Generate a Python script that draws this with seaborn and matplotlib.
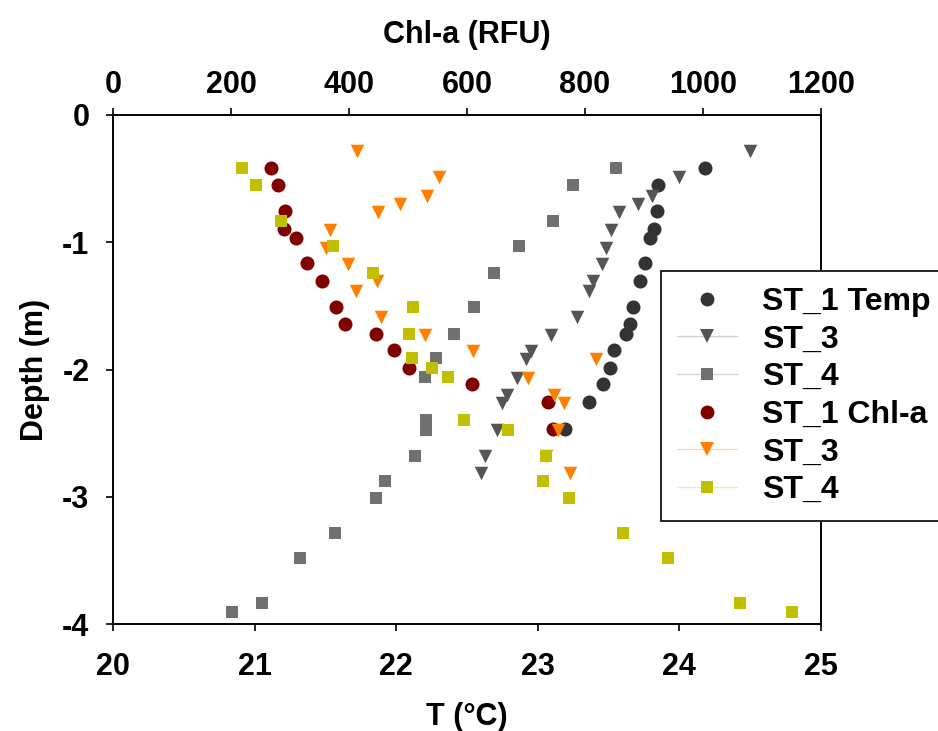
import numpy as np
import matplotlib
matplotlib.use("Agg")
import matplotlib.pyplot as plt
import seaborn as sns
from matplotlib.lines import Line2D

# ---------------- data ----------------
depth_st1 = [-0.415, -0.554, -0.751, -0.892, -0.963, -1.160, -1.301, -1.510,
             -1.639, -1.720, -1.848, -1.990, -2.116, -2.257, -2.467]
temp_st1 = [24.18, 23.85, 23.84, 23.82, 23.79, 23.76, 23.72, 23.67,
            23.65, 23.62, 23.54, 23.51, 23.46, 23.36, 23.19]
chla_st1 = [268, 280, 292, 289, 310, 329, 354, 378,
            394, 446, 477, 501, 608, 738, 745]

depth_st3 = [-0.285, -0.491, -0.633, -0.700, -0.763, -0.903, -1.042, -1.170,
             -1.307, -1.380, -1.590, -1.728, -1.856, -1.918, -2.068, -2.200,
             -2.267, -2.475, -2.683, -2.815]
temp_st3 = [24.50, 24.00, 23.81, 23.71, 23.57, 23.52, 23.48, 23.45,
            23.39, 23.36, 23.28, 23.09, 22.95, 22.92, 22.85, 22.78,
            22.75, 22.71, 22.63, 22.60]
chla_st3 = [414, 552, 532, 486, 449, 368, 361, 399,
            448, 412, 454, 528, 611, 819, 703, 748,
            764, 755, 734, 774]

depth_st4 = [-0.417, -0.551, -0.834, -1.028, -1.243, -1.510, -1.722, -1.911,
             -1.990, -2.061, -2.399, -2.472, -2.682, -2.878, -3.012, -3.287,
             -3.483, -3.837, -3.908]
temp_st4 = [23.55, 23.25, 23.11, 22.87, 22.69, 22.55, 22.41, 22.28,
            np.nan, 22.20, 22.21, 22.21, 22.13, 21.92, 21.86, 21.57,
            21.32, 21.05, 20.84]
chla_st4 = [219, 243, 284, 373, 441, 509, 502, 507,
            540, 568, 595, 670, 734, 728, 773, 865,
            941, 1062, 1151]

legend_labels = ["ST_1 Temp", "ST_3", "ST_4", "ST_1 Chl-a", "ST_3", "ST_4"]
temp_ticks = [20, 21, 22, 23, 24, 25]
chla_ticks = [0, 200, 400, 600, 800, 1000, 1200]
depth_ticks = [-4, -3, -2, -1, 0]

# ---------------- style ----------------
sns.set_style("ticks", {"axes.edgecolor": "black", "xtick.color": "black",
                        "ytick.color": "black", "text.color": "black",
                        "axes.labelcolor": "black"})
plt.rcParams["font.family"] = ["Liberation Sans", "DejaVu Sans"]
plt.rcParams["font.weight"] = "bold"
plt.rcParams["axes.unicode_minus"] = False

W, H = 938, 731
fig = plt.figure(figsize=(W / 100, H / 100), dpi=100)
L, R, T, B = 113, 821, 115, 624
ax = fig.add_axes([L / W, (H - B) / H, (R - L) / W, (B - T) / H])
ax2 = ax.twiny()

temp_specs = [
    (depth_st1, temp_st1, "#333333", "o", 102),
    (depth_st3, temp_st3, "#555555", "v", 95),
    (depth_st4, temp_st4, "#707070", "s", 84),
]
chla_specs = [
    (depth_st1, chla_st1, "#800000", "o", 102),
    (depth_st3, chla_st3, "#ff8000", "v", 95),
    (depth_st4, chla_st4, "#c0c000", "s", 84),
]
for d, v, c, m, s in temp_specs:
    sns.scatterplot(x=v, y=d, ax=ax, color=c, marker=m, s=s, linewidth=0, zorder=3)
for d, v, c, m, s in chla_specs:
    sns.scatterplot(x=v, y=d, ax=ax2, color=c, marker=m, s=s, linewidth=0, zorder=3)

ax.set_xlim(20, 25)
ax.set_ylim(-4, 0)
ax2.set_xlim(0, 1200)
ax.set_xticks(temp_ticks)
ax.set_yticks(depth_ticks)
ax2.set_xticks(chla_ticks)

fs = 22
ax.tick_params(axis="x", direction="out", length=5, width=1.2, pad=15, labelsize=fs)
ax.tick_params(axis="y", direction="out", length=5, width=1.2, pad=12, labelsize=fs,
               right=False)
ax2.tick_params(axis="x", direction="out", length=5, width=1.2, pad=6, labelsize=fs)
for a in (ax, ax2):
    for sp in a.spines.values():
        sp.set_linewidth(1.2)
        sp.set_color("black")
        sp.set_visible(True)

ax.set_xlabel("T (°C)", fontsize=fs, fontweight="bold")
ax.xaxis.set_label_coords(0.5, -0.153)
ax2.set_xlabel("Chl-a (RFU)", fontsize=fs, fontweight="bold")
ax2.xaxis.set_label_coords(0.5, 1.1415)
ax.set_ylabel("Depth (m)", fontsize=fs, fontweight="bold")
ax.yaxis.set_label_coords(-0.089, 0.5)

# ---------------- legend ----------------
handles = [
    Line2D([0], [0], linestyle="none", marker="o", markersize=10,
           markerfacecolor="#333333", markeredgewidth=0),
    Line2D([0], [0], color="#cfcfcf", lw=1, marker="v", markersize=9.5,
           markerfacecolor="#555555", markeredgewidth=0),
    Line2D([0], [0], color="#d3d3d3", lw=1, marker="s", markersize=9,
           markerfacecolor="#707070", markeredgewidth=0),
    Line2D([0], [0], linestyle="none", marker="o", markersize=10,
           markerfacecolor="#800000", markeredgewidth=0),
    Line2D([0], [0], color="#fbd8b5", lw=1, marker="v", markersize=9.5,
           markerfacecolor="#ff8000", markeredgewidth=0),
    Line2D([0], [0], color="#ecebbc", lw=1, marker="s", markersize=9,
           markerfacecolor="#c0c000", markeredgewidth=0),
]
leg = fig.legend(handles, legend_labels, loc="upper left",
                 bbox_to_anchor=(661 / W, 1 - 271 / H), bbox_transform=fig.transFigure,
                 borderaxespad=0, frameon=True, fancybox=False, framealpha=1,
                 edgecolor="black", prop={"size": 23, "weight": "bold"},
                 handlelength=1.87, handletextpad=0.78, borderpad=0.5,
                 labelspacing=0.24, numpoints=1)
leg.get_frame().set_linewidth(1.2)

fig.savefig("out.png", dpi=100, facecolor="white")
